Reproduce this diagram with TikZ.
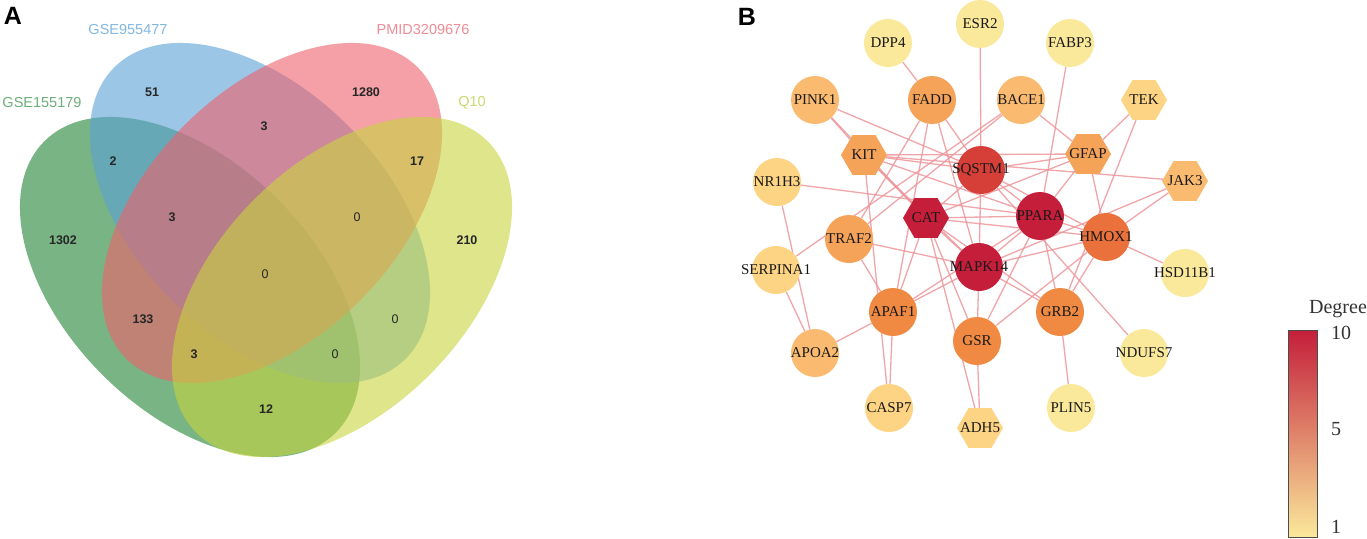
\documentclass[tikz,border=0pt]{standalone}
\usepackage{fontspec}
\setmainfont{Liberation Serif}
\newfontfamily\arialf{Liberation Sans}
\usetikzlibrary{shapes.geometric}
\pgfdeclarelayer{bgfill}
\pgfdeclarelayer{bg}
\pgfsetlayers{bgfill,bg,main}
\definecolor{vgreen}{RGB}{33,130,52}
\definecolor{vblue}{RGB}{90,160,213}
\definecolor{vred}{RGB}{238,97,107}
\definecolor{vyellow}{RGB}{200,212,63}
\definecolor{tgreen}{RGB}{110,175,120}
\definecolor{tblue}{RGB}{130,185,225}
\definecolor{tred}{RGB}{240,140,150}
\definecolor{tyellow}{RGB}{200,220,110}
\definecolor{dA}{RGB}{251,233,155}
\definecolor{dB}{RGB}{253,211,132}
\definecolor{dC}{RGB}{250,187,112}
\definecolor{dD}{RGB}{246,163,90}
\definecolor{dE}{RGB}{240,138,66}
\definecolor{dF}{RGB}{234,112,60}
\definecolor{dG}{RGB}{214,62,56}
\definecolor{dH}{RGB}{196,30,58}
\definecolor{dmid}{RGB}{222,100,96}
\definecolor{edgec}{RGB}{238,150,155}
\newcommand\gn[5]{\node[#5, fill=#4] (#1) at (#2) {};\node[glab] (#1-t) at (#1.center) {#3};}
\begin{document}
\begin{tikzpicture}[x=1pt,y=-1pt,
  vset/.style={fill opacity=0.6, draw=none},
  vnum/.style={font=\arialf\bfseries\fontsize{12.5}{14}\selectfont, text=black!85, inner sep=0pt},
  vzero/.style={font=\arialf\fontsize{12.5}{14}\selectfont, text=black!85, inner sep=0pt},
  vlab/.style={font=\arialf\fontsize{14.5}{16}\selectfont, inner sep=0pt},
  panel/.style={font=\arialf\bfseries\fontsize{25}{28}\selectfont, inner sep=0pt},
  gene/.style={circle, minimum size=48pt, inner sep=0pt, draw=none},
  hexgene/.style={regular polygon, regular polygon sides=6, minimum size=46pt, inner sep=0pt, draw=none},
  glab/.style={font=\fontsize{15}{16}\selectfont, text=black!90, inner sep=0pt},
  edge/.style={draw=edgec, line width=1.3pt, draw opacity=0.85},
  tick/.style={font=\fontsize{20}{22}\selectfont, text=black!80, inner sep=0pt, anchor=west}
]
\useasboundingbox (0,0) rectangle (1367,538);
\begin{pgfonlayer}{bgfill}
\fill[white] (0,0) rectangle (1367,538);
\end{pgfonlayer}

% ---------- Panel A: Venn ----------
\node[panel] (pA) at (13,16) {A};
\fill[vset, vgreen, rotate around={-45:(190,287)}] (190,287) ellipse [x radius=206pt, y radius=124pt];
\fill[vset, vblue, rotate around={-45:(260,213)}] (260,213) ellipse [x radius=206pt, y radius=124pt];
\fill[vset, vred, rotate around={45:(272,213)}] (272,213) ellipse [x radius=206pt, y radius=124pt];
\fill[vset, vyellow, rotate around={45:(342,287)}] (342,287) ellipse [x radius=206pt, y radius=124pt];

\node[vlab, text=tblue] (lb) at (128,30) {GSE955477};
\node[vlab, text=tgreen] (lg) at (42,103) {GSE155179};
\node[vlab, text=tred] (lr) at (423,30) {PMID3209676};
\node[vlab, text=tyellow] (ly) at (472,103) {Q10};

\node[vnum] (n1) at (152,92) {51};
\node[vnum] (n2) at (366,92) {1280};
\node[vnum] (n3) at (264,126) {3};
\node[vnum] (n4) at (113,161) {2};
\node[vnum] (n5) at (417,161) {17};
\node[vnum] (n6) at (172,217) {3};
\node[vzero] (n7) at (357,217) {0};
\node[vnum] (n8) at (63,240) {1302};
\node[vnum] (n9) at (467,240) {210};
\node[vzero] (n10) at (265,274) {0};
\node[vnum] (n11) at (143,319) {133};
\node[vzero] (n12) at (395,319) {0};
\node[vnum] (n13) at (194,354) {3};
\node[vzero] (n14) at (335,354) {0};
\node[vnum] (n15) at (266,409) {12};

% ---------- Panel B: network ----------
\node[panel] (pB) at (747,17) {B};
\gn{ESR2}{980,24}{ESR2}{dA}{gene}
\gn{DPP4}{888,43}{DPP4}{dA}{gene}
\gn{FABP3}{1070,43}{FABP3}{dA}{gene}
\gn{PINK1}{815,100}{PINK1}{dC}{gene}
\gn{FADD}{932,100}{FADD}{dD}{gene}
\gn{BACE1}{1021,100}{BACE1}{dC}{gene}
\gn{TEK}{1144,100}{TEK}{dB}{hexgene}
\gn{KIT}{864,155}{KIT}{dD}{hexgene}
\gn{GFAP}{1088,154}{GFAP}{dD}{hexgene}
\gn{SQSTM1}{981,170}{SQSTM1}{dG}{gene}
\gn{NR1H3}{777,182}{NR1H3}{dB}{gene}
\gn{JAK3}{1185,181}{JAK3}{dC}{hexgene}
\gn{CAT}{926,218}{CAT}{dH}{hexgene}
\gn{PPARA}{1040,216}{PPARA}{dH}{gene}
\gn{TRAF2}{849,239}{TRAF2}{dD}{gene}
\gn{HMOX1}{1106,237}{HMOX1}{dF}{gene}
\gn{SERPINA1}{776,270}{SERPINA1}{dB}{gene}
\gn{HSD11B1}{1185,273}{HSD11B1}{dA}{gene}
\gn{MAPK14}{979,267}{MAPK14}{dH}{gene}
\gn{APAF1}{893,312}{APAF1}{dE}{gene}
\gn{GRB2}{1060,312}{GRB2}{dE}{gene}
\gn{GSR}{977,341}{GSR}{dE}{gene}
\gn{APOA2}{815,353}{APOA2}{dC}{gene}
\gn{NDUFS7}{1144,353}{NDUFS7}{dA}{gene}
\gn{CASP7}{889,408}{CASP7}{dB}{gene}
\gn{ADH5}{980,428}{ADH5}{dB}{hexgene}
\gn{PLIN5}{1071,408}{PLIN5}{dA}{gene}

\begin{pgfonlayer}{bg}
\foreach \a/\b in {DPP4/FADD, ESR2/SQSTM1, FABP3/PPARA, PINK1/KIT, PINK1/SQSTM1, PINK1/CAT,
  FADD/SQSTM1, FADD/TRAF2, FADD/APAF1, FADD/MAPK14, BACE1/SERPINA1, BACE1/GFAP, BACE1/TRAF2,
  TEK/GFAP, TEK/GRB2, KIT/GFAP, KIT/SQSTM1, KIT/CAT, KIT/MAPK14, KIT/CASP7, KIT/JAK3, KIT/PPARA,
  GFAP/SQSTM1, GFAP/HMOX1, GFAP/PPARA, GFAP/CAT, NR1H3/PPARA, NR1H3/APOA2, SERPINA1/APOA2,
  JAK3/HMOX1, JAK3/MAPK14, SQSTM1/CAT, SQSTM1/PPARA, SQSTM1/MAPK14, SQSTM1/HMOX1, SQSTM1/NDUFS7,
  CAT/PPARA, CAT/MAPK14, CAT/GRB2, CAT/HMOX1, CAT/GSR, CAT/APAF1, CAT/ADH5,
  PPARA/MAPK14, PPARA/HMOX1, PPARA/GRB2, PPARA/APAF1, PPARA/GSR,
  TRAF2/MAPK14, TRAF2/APAF1, HMOX1/HSD11B1, HMOX1/MAPK14, HMOX1/GRB2, HMOX1/GSR,
  MAPK14/APAF1, MAPK14/GSR, MAPK14/GRB2, APAF1/APOA2, APAF1/CASP7, GSR/ADH5, GRB2/PLIN5}
  \draw[edge] (\a) -- (\b);
\end{pgfonlayer}

% ---------- colour bar ----------
\node[draw=black!70, line width=0.8pt, inner sep=0pt, minimum width=29pt, minimum height=207pt,
  top color=dH, middle color=dmid, bottom color=dA] (cbar) at (1302.5,433.5) {};
\node[font=\fontsize{20}{22}\selectfont, text=black!80, inner sep=0pt] (deg) at (1338,309) {Degree};
\node[tick] (t10) at (1331,333) {10};
\node[tick] (t5) at (1331,429) {5};
\node[tick] (t1) at (1331,527) {1};
\end{tikzpicture}
\end{document}
